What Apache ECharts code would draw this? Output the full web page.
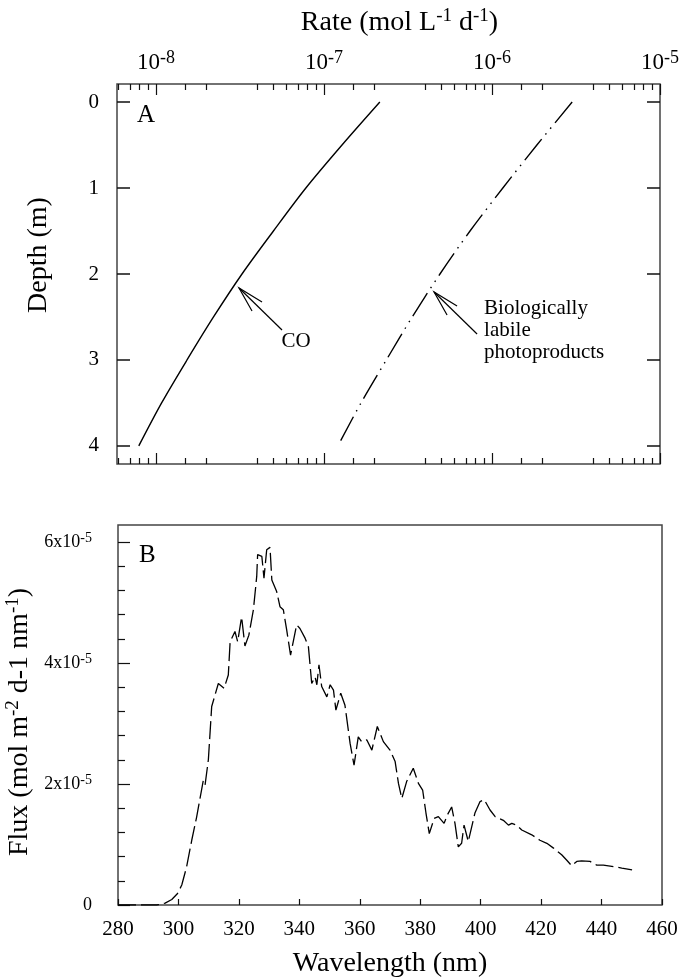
<!DOCTYPE html>
<html>
<head>
<meta charset="utf-8">
<script src="https://cdn.jsdelivr.net/npm/echarts@6/dist/echarts.min.js"></script>
<style>
  html, body { margin: 0; padding: 0; background: #fff; }
  #chart { width: 681px; height: 978px; }
</style>
</head>
<body>
<div id="chart"></div>
<script>
// panel A: photoproduction rate vs depth
var depth = [0, 0.5, 1, 1.5, 2, 2.5, 3, 3.5, 4];
var coRate = [2.15e-7, 1.28e-7, 7.8e-8, 5.0e-8, 3.25e-8, 2.2e-8, 1.53e-8, 1.08e-8, 7.9e-9];
var bioRate = [3.0e-6, 1.85e-6, 1.16e-6, 7.4e-7, 4.9e-7, 3.35e-7, 2.35e-7, 1.66e-7, 1.21e-7];

// panel B: flux spectrum (flux in units of 10^-5 mol m-2 d-1 nm-1)
var wavelength = [280, 285, 290, 292.8, 295.6, 297.8, 299.7, 301.1, 302.7, 304.4, 306, 307.2, 308.2, 308.8, 309.9,
  311.0, 313.2, 315.1, 316.5, 317.1, 318.7, 319.6, 320.9, 322.0, 323.3, 324.8, 325.9, 326.2, 327.6, 328.3,
  329.2, 330.3, 330.9, 332.5, 333.6, 334.7, 335.8, 337.1, 339.1, 340.2, 341.9, 343.0, 344.1, 345.2, 345.8,
  346.5, 347.4, 349.1, 350.2, 351.3, 352.1, 353.7, 355.1, 356.8, 358.1, 359.5, 360.6, 362.3, 364.0, 365.8,
  367.8, 370.0, 371.7, 372.8, 373.9, 375.5, 377.7, 379.4, 380.8, 381.9, 383.0, 384.6, 386.0, 387.9, 389.0,
  390.4, 391.5, 392.6, 393.7, 394.5, 395.9, 398.1, 399.8, 401.2, 403.1, 404.8, 407.5, 409.2, 410.3, 411.9,
  413.6, 416.9, 419.6, 421.9, 424.1, 426.8, 428.5, 430.1, 431.8, 433.4, 436.2, 438.4, 440.6, 443.4, 446.7, 450.1];
var flux = [0, 0, 0, 0, 0.03, 0.09, 0.19, 0.33, 0.63, 1.07, 1.45, 1.78, 2.05, 1.98, 2.40,
  3.28, 3.66, 3.58, 3.80, 4.35, 4.52, 4.35, 4.76, 4.28, 4.46, 4.88, 5.43, 5.79, 5.76, 5.40,
  5.87, 5.91, 5.37, 5.18, 4.93, 4.88, 4.55, 4.13, 4.63, 4.57, 4.41, 4.27, 3.66, 3.77, 3.64,
  3.97, 3.61, 3.44, 3.64, 3.55, 3.22, 3.50, 3.30, 2.67, 2.31, 2.78, 2.70, 2.73, 2.56, 2.95,
  2.70, 2.56, 2.37, 2.01, 1.76, 2.04, 2.26, 2.01, 1.90, 1.52, 1.18, 1.43, 1.46, 1.35, 1.49,
  1.62, 1.35, 0.96, 1.02, 1.32, 1.05, 1.52, 1.71, 1.74, 1.57, 1.46, 1.40, 1.32, 1.35, 1.32,
  1.24, 1.16, 1.07, 1.02, 0.94, 0.83, 0.74, 0.65, 0.72, 0.73, 0.72, 0.66, 0.66, 0.64, 0.61, 0.58];

// tick labels / tick positions
var rateLabels = [1e-8, 1e-7, 1e-6, 1e-5];
var rateMinor = [6e-9, 7e-9, 8e-9, 9e-9,
  1.5e-8, 2e-8, 4e-8, 5e-8, 6e-8, 7e-8, 8e-8, 9e-8,
  1.5e-7, 2e-7, 4e-7, 5e-7, 6e-7, 7e-7, 8e-7, 9e-7,
  1.5e-6, 2e-6, 4e-6, 5e-6, 6e-6, 7e-6, 8e-6, 9e-6];
var depthTicks = [0, 1, 2, 3, 4];
var fluxLabels = [0, 2, 4, 6];
var fluxMinor = [0.4, 0.8, 1.2, 1.6, 2.4, 2.8, 3.2, 3.6, 4.4, 4.8, 5.2, 5.6];

var FONT = '"Liberation Serif", "DejaVu Serif", serif';
var INK = '#111';

function zip(a, b) {
  var out = [];
  for (var i = 0; i < a.length; i++) out.push([a[i], b[i]]);
  return out;
}

// superscript helpers for the exponent labels
var rateRich = {
  b: { fontFamily: FONT, fontSize: 23, lineHeight: 27, color: '#000' },
  s: { fontFamily: FONT, fontSize: 18, lineHeight: 18, verticalAlign: 'top', color: '#000' }
};
var fluxRich = {
  b: { fontFamily: FONT, fontSize: 18, lineHeight: 22, color: '#000' },
  s: { fontFamily: FONT, fontSize: 14, lineHeight: 14, verticalAlign: 'top', color: '#000' }
};
var nameRich = {
  t: { fontFamily: FONT, fontSize: 28, lineHeight: 32, color: '#000' },
  s: { fontFamily: FONT, fontSize: 19, lineHeight: 19, verticalAlign: 'top', color: '#000' }
};

// shared bits for the rate axes (all four sit on the same log scale)
function rateAxis(pos, ticks, len, extra) {
  var ax = {
    gridIndex: 0, type: 'log', position: pos,
    min: 5.86e-9, max: 1e-5,
    axisLine: { show: false, onZero: false },
    axisTick: { inside: true, length: len, customValues: ticks, lineStyle: { color: INK, width: 1.2 } },
    axisLabel: { show: false },
    splitLine: { show: false }
  };
  for (var k in extra) ax[k] = extra[k];
  return ax;
}

var myChart = echarts.init(document.getElementById('chart'));
myChart.setOption({
  animation: false,
  backgroundColor: '#fff',
  grid: [
    { left: 117, top: 84, width: 543, height: 380, outerBoundsMode: 'none', containLabel: false,
      show: true, borderColor: '#444', borderWidth: 1.5 },
    { left: 118, top: 525, width: 544, height: 380, outerBoundsMode: 'none', containLabel: false,
      show: true, borderColor: '#444', borderWidth: 1.5 }
  ],
  xAxis: [
    rateAxis('top', rateLabels, 11, {
      axisLabel: {
        customValues: rateLabels, margin: 8, fontSize: 23, fontFamily: FONT,
        formatter: function (v) { return '{b|10}{s|' + Math.round(Math.log10(v)) + '}'; },
        rich: rateRich
      },
      name: '{t|Rate (mol L}{s|-1}{t| d}{s|-1}{t|)}',
      nameLocation: 'middle', nameGap: 45,
      nameTextStyle: { fontSize: 28, fontFamily: FONT, rich: nameRich, padding: [0, 0, 0, 22] }
    }),
    rateAxis('top', rateMinor, 6, {}),
    rateAxis('bottom', rateLabels, 11, {}),
    rateAxis('bottom', rateMinor, 6, {}),
    {
      gridIndex: 1, type: 'value', position: 'bottom',
      min: 280, max: 460, interval: 20,
      axisLine: { show: false, onZero: false },
      axisTick: { inside: true, length: 6, lineStyle: { color: INK, width: 1.2 } },
      axisLabel: { margin: 14, fontFamily: FONT, fontSize: 21, color: '#000' },
      splitLine: { show: false },
      name: 'Wavelength (nm)', nameLocation: 'middle', nameGap: 45,
      nameTextStyle: { fontFamily: FONT, fontSize: 28, color: '#000' }
    }
  ],
  yAxis: [
    {
      gridIndex: 0, type: 'value', position: 'left', inverse: true,
      min: -0.21, max: 4.21,
      axisLine: { show: false, onZero: false },
      axisTick: { inside: true, length: 13, customValues: depthTicks, lineStyle: { color: INK, width: 1.5 } },
      axisLabel: { customValues: depthTicks, margin: 18, fontFamily: FONT, fontSize: 21, color: '#000' },
      splitLine: { show: false },
      name: 'Depth (m)', nameLocation: 'middle', nameGap: 64, nameRotate: 90,
      nameTextStyle: { fontFamily: FONT, fontSize: 28, color: '#000', padding: [0, 0, 0, 38] }
    },
    {
      gridIndex: 0, type: 'value', position: 'right', inverse: true,
      min: -0.21, max: 4.21,
      axisLine: { show: false, onZero: false },
      axisTick: { inside: true, length: 13, customValues: depthTicks, lineStyle: { color: INK, width: 1.5 } },
      axisLabel: { show: false },
      splitLine: { show: false }
    },
    {
      gridIndex: 1, type: 'value', position: 'left',
      min: 0, max: 6.28,
      axisLine: { show: false, onZero: false },
      axisTick: { inside: true, length: 12, customValues: fluxLabels, lineStyle: { color: INK, width: 1.2 } },
      axisLabel: {
        customValues: fluxLabels, margin: 26, fontSize: 18, fontFamily: FONT,
        formatter: function (v) { return v === 0 ? '{b|0}' : '{b|' + v + 'x10}{s|-5}'; },
        rich: fluxRich
      },
      splitLine: { show: false },
      name: '{t|Flux (mol m}{s|-2}{t| d-1 nm}{s|-1}{t|)}',
      nameLocation: 'middle', nameGap: 74, nameRotate: 90,
      nameTextStyle: { fontSize: 28, fontFamily: FONT, rich: nameRich, padding: [0, 14, 0, 0] }
    },
    {
      gridIndex: 1, type: 'value', position: 'left',
      min: 0, max: 6.28,
      axisLine: { show: false, onZero: false },
      axisTick: { inside: true, length: 7, customValues: fluxMinor, lineStyle: { color: INK, width: 1.2 } },
      axisLabel: { show: false },
      splitLine: { show: false }
    }
  ],
  series: [
    {
      name: 'CO', type: 'line', xAxisIndex: 0, yAxisIndex: 0,
      smooth: 0.3, showSymbol: false, silent: true,
      lineStyle: { color: '#000', width: 1.4, type: 'solid' },
      data: zip(coRate, depth)
    },
    {
      name: 'Biologically labile photoproducts', type: 'line', xAxisIndex: 0, yAxisIndex: 0,
      smooth: 0.3, showSymbol: false, silent: true,
      lineStyle: { color: '#000', width: 1.4, type: [27, 6, 1.5, 6, 1.5, 6] },
      data: zip(bioRate, depth)
    },
    {
      name: 'Flux', type: 'line', xAxisIndex: 4, yAxisIndex: 2,
      showSymbol: false, silent: true,
      lineStyle: { color: '#000', width: 1.3, type: [18, 5] },
      data: zip(wavelength, flux)
    }
  ]
});

// annotations: arrows anchored on the curves, panel letters in the corners
function px(g, x, y) {
  return g === 0
    ? myChart.convertToPixel({ xAxisIndex: 0, yAxisIndex: 0 }, [x, y])
    : myChart.convertToPixel({ xAxisIndex: 4, yAxisIndex: 2 }, [x, y]);
}
function arrow(tip) {
  var x = tip[0], y = tip[1];
  var ls = { stroke: '#000', lineWidth: 1.2, fill: null };
  return [
    { type: 'polyline', silent: true, shape: { points: [[x, y], [x + 43, y + 42]] }, style: ls },
    { type: 'polyline', silent: true, shape: { points: [[x + 23, y + 14], [x, y], [x + 13, y + 23]] }, style: ls }
  ];
}

var coTip = px(0, 3.12e-8, 2.163);
var bioTip = px(0, 4.52e-7, 2.209);
var aCorner = px(0, 5.86e-9, -0.21);
var bCorner = px(1, 280, 6.28);

var g = [];
g = g.concat(arrow(coTip), arrow(bioTip));
g.push({
  type: 'text', silent: true, x: coTip[0] + 57, y: coTip[1] + 53,
  style: { text: 'CO', font: '21px ' + FONT, fill: '#000', align: 'center', verticalAlign: 'middle' }
});
g.push({
  type: 'text', silent: true, x: bioTip[0] + 50, y: bioTip[1] + 6,
  style: { text: 'Biologically\nlabile\nphotoproducts', font: '21px ' + FONT, fill: '#000', align: 'left', verticalAlign: 'top', lineHeight: 22 }
});
g.push({
  type: 'text', silent: true, x: aCorner[0] + 20, y: aCorner[1] + 31,
  style: { text: 'A', font: '25px ' + FONT, fill: '#000', align: 'left', verticalAlign: 'middle' }
});
g.push({
  type: 'text', silent: true, x: bCorner[0] + 21, y: bCorner[1] + 30,
  style: { text: 'B', font: '25px ' + FONT, fill: '#000', align: 'left', verticalAlign: 'middle' }
});
myChart.setOption({ graphic: g });
</script>
</body>
</html>
